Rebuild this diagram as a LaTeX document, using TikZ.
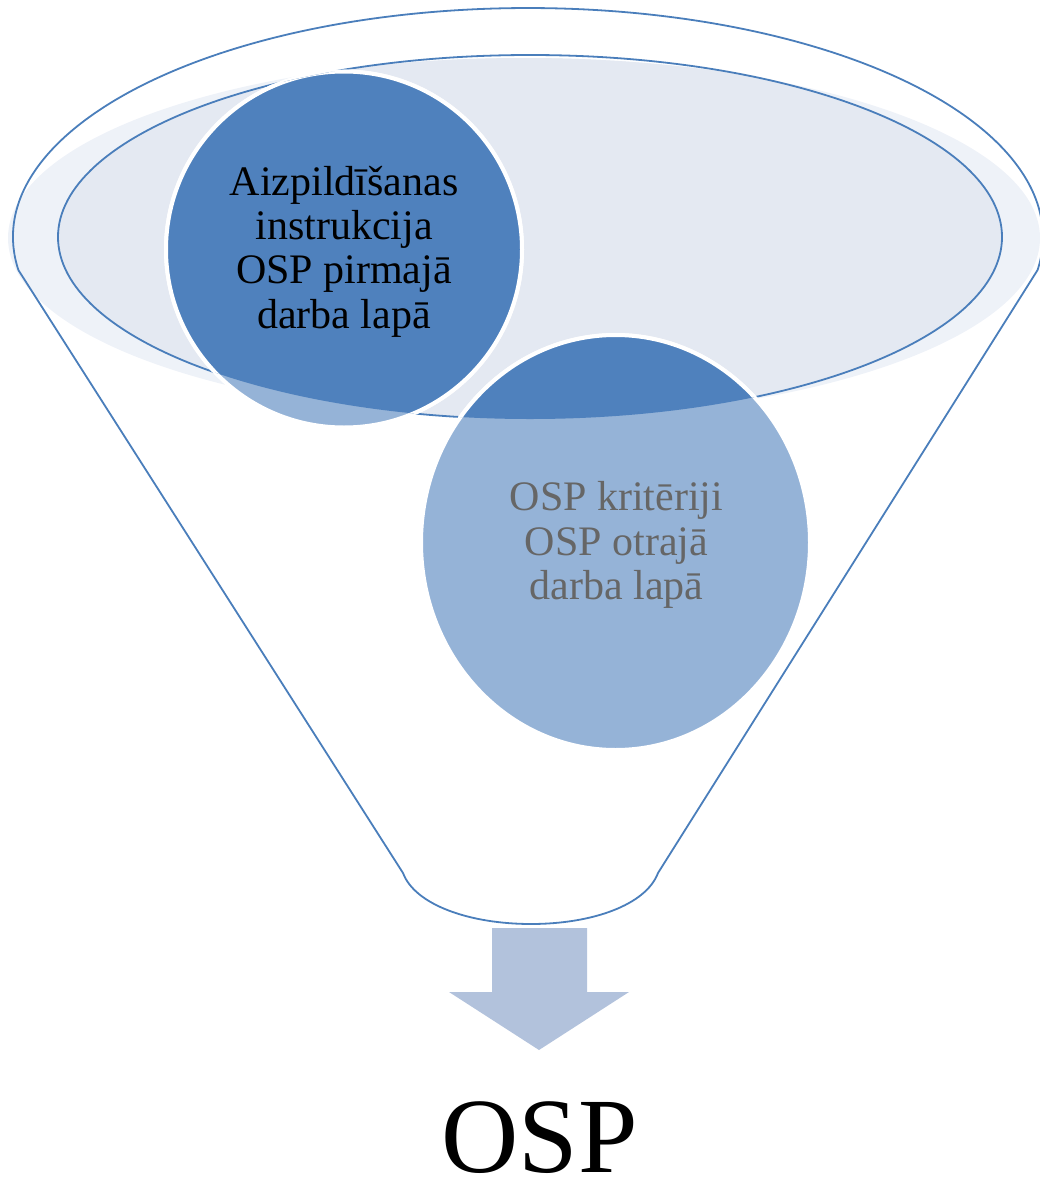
\documentclass[tikz,border=0pt]{standalone}
\usepackage{fontspec}
\setmainfont{Liberation Serif}
\usetikzlibrary{shapes.geometric}
\definecolor{accent}{HTML}{4F81BD}
\definecolor{lineacc}{HTML}{4A7EBB}
\definecolor{lightacc}{HTML}{95B3D7}
\definecolor{glowfill}{HTML}{EEF2F8}
\definecolor{innerfill}{HTML}{E4E9F2}
\definecolor{arrowfill}{HTML}{B2C2DC}
\definecolor{graytext}{HTML}{666666}
\begin{document}
\begin{tikzpicture}[x=1pt,y=-1pt,
  outline/.style={draw=lineacc, line width=1.8pt, line join=round},
  bubble/.style={ellipse, draw=white, line width=4pt, inner sep=0pt},
  bubbletext/.style={font=\fontsize{42}{44.3}\selectfont, align=center, inner sep=0pt},
]
\useasboundingbox (0,0) rectangle (1039,1183);
% glow and inner fill
\fill[glowfill] (524,238) ellipse [x radius=516, y radius=180];
\begin{scope}
  \clip (524,238) ellipse [x radius=516, y radius=180];
  \fill[innerfill] (530,237) ellipse [x radius=472, y radius=182];
\end{scope}
\draw[outline] (530,237) ellipse [x radius=472, y radius=182];
% funnel outline
\draw[outline] (18.4,270.07) arc[start angle=171.7, end angle=368.3, x radius=515, y radius=229]
  -- (658,873) .. controls (646,905) and (592,924) .. (531,924)
  .. controls (470,924) and (415,905) .. (403,873) -- cycle;
% light bubbles
\node[bubble, fill=lightacc, minimum width=356, minimum height=356] (c1) at (344,249.5) {};
\node[bubble, fill=lightacc, minimum width=389, minimum height=415] (c2) at (615.5,542.5) {};
% dark parts inside the funnel mouth
\begin{scope}
  \clip (530,237) ellipse [x radius=472, y radius=182];
  \node[bubble, fill=accent, minimum width=356, minimum height=356] (c1d) at (c1.center) {};
  \node[bubble, fill=accent, minimum width=389, minimum height=415] (c2d) at (c2.center) {};
\end{scope}
% texts
\node[bubbletext] (t1) at (344,251.7) {Aizpildīšanas\\instrukcija\\OSP pirmajā\\darba lapā};
\node[bubbletext, text=graytext] (t2) at (616.5,545) {OSP kritēriji\\OSP otrajā\\darba lapā};
% arrow
\fill[arrowfill] (492,928) -- (587,928) -- (587,992) -- (629,992) -- (539,1050)
  -- (449,992) -- (492,992) -- cycle;
\node[font=\fontsize{107}{110}\selectfont, anchor=base, inner sep=0pt] (osp) at (539.5,1172) {OSP};
\end{tikzpicture}
\end{document}
